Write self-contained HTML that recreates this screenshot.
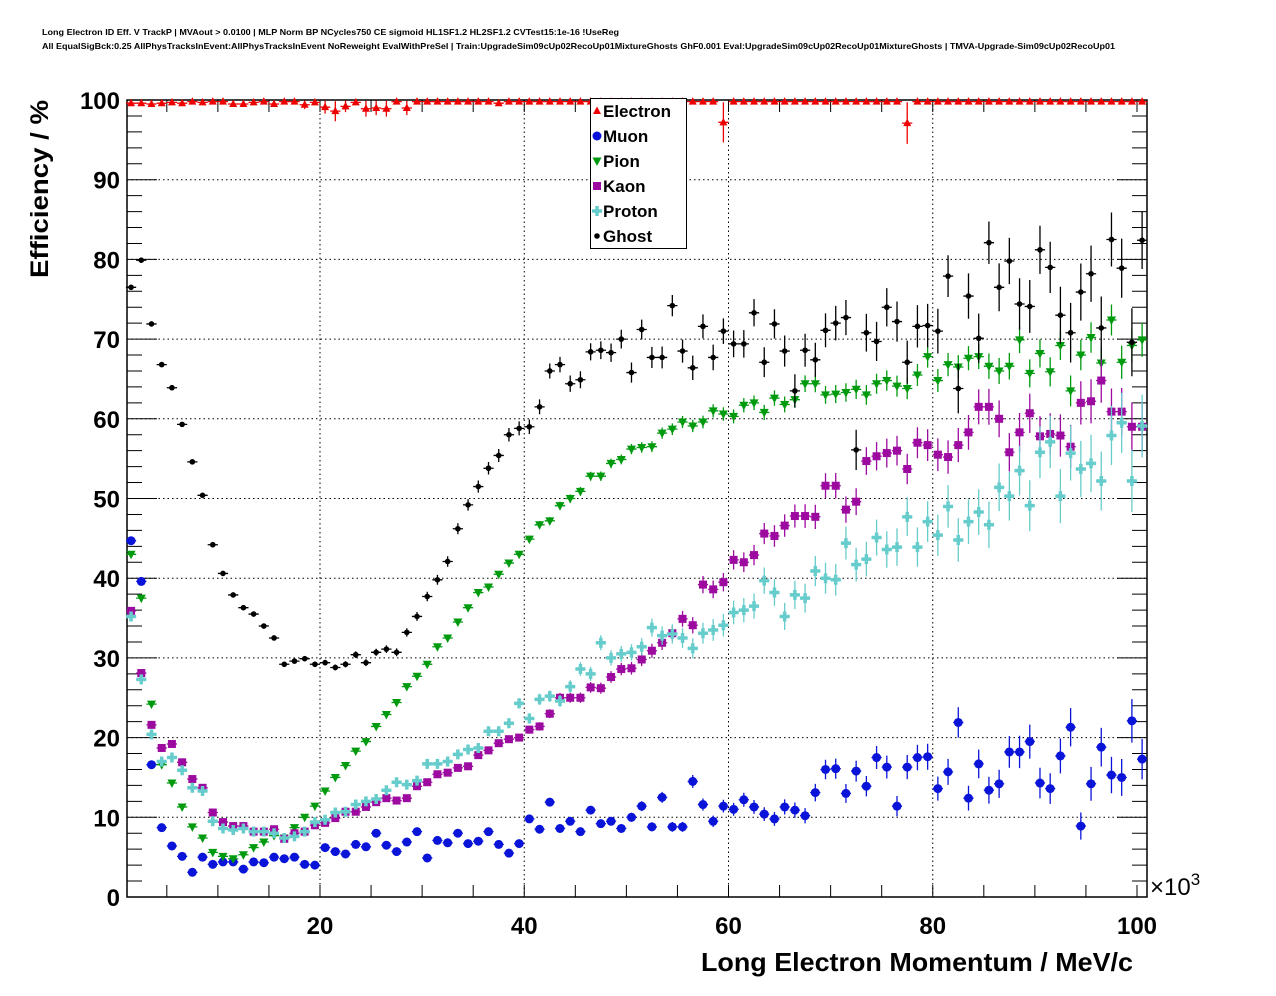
<!DOCTYPE html>
<html><head><meta charset="utf-8"><style>
html,body{margin:0;padding:0;background:#fff;}
svg{display:block;font-family:"Liberation Sans",sans-serif;}
</style></head><body>
<svg id="c" width="1276" height="996" viewBox="0 0 1276 996" xmlns="http://www.w3.org/2000/svg">
<rect width="1276" height="996" fill="#fff"/>
<text x="42" y="35" font-size="8.5" font-weight="bold" textLength="577" lengthAdjust="spacingAndGlyphs">Long Electron ID Eff. V TrackP | MVAout &gt; 0.0100 | MLP Norm BP NCycles750 CE sigmoid HL1SF1.2 HL2SF1.2 CVTest15:1e-16 !UseReg</text>
<text x="42" y="49" font-size="8.5" font-weight="bold" textLength="1073" lengthAdjust="spacingAndGlyphs">All EqualSigBck:0.25 AllPhysTracksInEvent:AllPhysTracksInEvent NoReweight EvalWithPreSel | Train:UpgradeSim09cUp02RecoUp01MixtureGhosts GhF0.001 Eval:UpgradeSim09cUp02RecoUp01MixtureGhosts | TMVA-Upgrade-Sim09cUp02RecoUp01</text>
<g id="grid"></g>
<g id="axes"></g>
<g id="series"></g>
<g id="legend"></g>
<text transform="translate(48,278) rotate(-90)" font-size="25" font-weight="bold" textLength="178" lengthAdjust="spacingAndGlyphs">Efficiency / %</text>
<text x="1133" y="971" text-anchor="end" font-size="26" font-weight="bold" textLength="432" lengthAdjust="spacingAndGlyphs">Long Electron Momentum / MeV/c</text>
<text x="1150" y="895" font-size="24">×10<tspan font-size="17" dy="-10">3</tspan></text>
</svg>
<script>
const xTicks = [20, 40, 60, 80, 100];
const yTicks = [0, 10, 20, 30, 40, 50, 60, 70, 80, 90, 100];
const binStart = 1.5;
const electron = [99.6,99.6,99.5,99.6,99.7,99.6,99.8,99.7,99.8,99.8,99.5,99.5,99.7,99.8,99.5,99.8,99.8,99.4,99.7,99.1,98.6,99.2,99.7,98.9,99.0,98.9,99.8,99.0,99.8,99.8,99.8,99.8,99.8,99.8,99.8,99.8,99.6,99.8,99.8,99.8,99.8,99.8,99.8,99.8,99.8,99.8,99.8,99.8,99.8,99.8,99.8,99.8,99.8,99.8,99.8,99.8,99.8,99.8,97.2,99.8,99.8,99.8,99.8,99.8,99.8,99.8,99.8,99.8,99.8,99.8,99.8,99.8,99.8,99.8,99.8,99.8,97.1,99.8,99.8,99.8,99.8,99.8,99.8,99.8,99.8,99.8,99.8,99.8,99.8,99.8,99.8,99.8,99.8,99.8,99.8,99.8,99.8,99.8,99.8,99.8];
const muon = [44.7,39.6,16.6,8.7,6.4,5.1,3.1,5.0,4.1,4.4,4.4,3.5,4.4,4.3,5.0,4.8,5.0,4.1,4.0,6.2,5.7,5.4,6.6,6.3,8.0,6.5,5.7,6.9,8.2,
4.9,7.1,6.8,8.0,6.7,7.0,8.2,6.6,5.5,6.7,9.8,8.5,11.9,8.6,9.5,8.2,10.9,9.2,9.5,8.6,10.0,11.4,8.8,12.5,8.8,8.8,14.5,11.6,9.5,11.4,11.0,12.2,11.3,
10.4,9.8,11.3,10.9,10.2,13.1,16.0,16.1,13.0,15.8,13.9,17.5,16.3,11.4,16.3,17.5,17.6,13.6,15.7,21.9,12.4,16.7,13.4,14.2,18.2,18.2,19.5,14.3,13.6,17.7,21.3,8.9,14.2,18.8,15.3,15.0,22.1,17.3];
const pion = [43.0,37.5,24.2,16.6,14.3,11.3,8.8,7.4,5.6,5.1,4.8,5.3,6.2,6.9,7.7,7.4,8.7,10.0,11.4,13.3,15.0,16.5,18.3,19.5,21.4,22.9,24.4,26.4,27.7,
29.2,31.4,32.5,34.5,36.3,38.2,38.9,40.5,41.9,43.0,44.9,46.7,47.2,49.1,50.0,50.9,52.8,52.8,54.4,54.9,56.2,56.4,56.5,58.2,58.7,59.6,59.1,59.6,61.0,60.6,60.3,61.7,62.0,
60.8,62.6,61.8,62.4,64.4,64.4,63.0,63.1,63.3,63.7,63.0,64.4,64.8,64.1,63.8,65.5,67.8,64.8,66.8,66.5,67.6,67.8,66.6,66.0,66.6,69.9,65.7,68.2,65.9,69.2,63.5,68.0,70.2,67.0,72.4,67.1,69.2,69.9];
const kaon = [35.9,28.1,21.6,18.7,19.2,16.9,14.8,13.7,10.6,9.4,8.9,8.9,8.2,8.2,8.5,7.3,8.0,8.2,9.0,9.3,9.9,10.7,10.7,11.3,11.9,12.4,12.1,12.4,13.9,
14.4,15.4,15.6,16.2,16.4,17.8,18.4,19.3,19.8,20.0,21.0,21.4,23.0,25.0,25.0,25.0,26.3,26.2,27.6,28.6,28.7,29.8,30.9,31.9,33.1,34.9,34.1,39.2,38.6,39.5,42.3,42.0,42.9,
45.6,45.3,46.6,47.8,47.8,47.7,51.6,51.6,48.6,49.6,54.7,55.3,55.7,56.0,53.7,57.0,56.7,55.5,55.2,56.7,58.3,61.5,61.5,60.0,55.8,58.3,60.7,57.8,58.1,57.9,56.5,62.0,62.2,64.8,60.9,60.9,59.0,59.0];
const proton = [35.2,27.3,20.4,17.0,17.5,15.9,13.7,13.3,9.5,8.6,8.4,8.6,8.2,8.2,8.0,7.4,7.6,8.2,9.4,9.7,10.6,10.7,11.6,12.0,12.3,13.4,14.4,14.1,14.6,
16.7,16.7,17.0,17.9,18.5,18.7,20.8,20.8,21.8,24.3,22.4,24.8,25.2,24.6,26.4,28.6,28.0,31.9,30.0,30.5,30.7,31.4,33.8,32.8,33.0,32.5,31.2,33.1,33.5,34.1,35.7,36.0,36.5,
39.7,38.2,35.2,37.9,37.5,40.9,40.0,39.8,44.4,41.7,42.4,45.1,43.6,43.9,47.7,43.9,47.1,45.4,49.0,44.8,47.1,48.3,46.7,51.4,50.3,53.5,49.1,55.8,57.1,50.3,55.7,53.7,54.4,52.2,57.9,59.5,52.2,59.1];
const ghost = [76.5,79.9,71.9,66.8,63.9,59.3,54.6,50.4,44.2,40.6,37.9,36.3,35.5,34.0,32.5,29.2,29.6,29.9,29.2,29.4,28.8,29.2,30.4,29.4,30.7,31.1,30.7,33.2,35.2,
37.7,39.8,42.1,46.2,49.2,51.5,53.8,55.4,58.0,58.8,59.0,61.5,66.0,66.8,64.4,64.9,68.4,68.6,68.3,70.0,65.8,71.2,67.7,67.7,74.2,68.5,66.4,71.6,67.7,71.0,69.4,69.4,73.3,
67.1,71.9,68.5,63.5,68.6,67.4,71.1,72.0,72.7,56.1,70.8,69.7,74.0,72.2,67.1,71.6,71.7,71.0,77.9,63.8,75.4,70.1,82.1,76.5,79.8,74.4,74.1,81.2,79.0,73.0,70.8,75.9,78.2,71.4,82.5,78.9,69.6,82.4];
const seriesNames = ["Electron","Muon","Pion","Kaon","Proton","Ghost"];
const errScales = [0.01,0.032,0.022,0.03,0.038,0.045];

const L=127,R=1147,T=100,B=897;
const X0=115.75, XS=10.2125;
function xp(v){return X0+XS*v;}
function yp(v){return B-(B-T)*v/100;}
const NS="http://www.w3.org/2000/svg";
function mk(tag,attrs,parent){const e=document.createElementNS(NS,tag);for(const k in attrs)e.setAttribute(k,attrs[k]);parent.appendChild(e);return e;}
const grid=document.getElementById('grid'),axes=document.getElementById('axes'),ser=document.getElementById('series'),leg=document.getElementById('legend');

yTicks.forEach(t=>{
  if(t>0&&t<100){const g=mk('line',{x1:L,x2:R,y1:yp(t),y2:yp(t),stroke:'#000','stroke-width':1,'stroke-dasharray':'1.5,3'},grid);
  
  }
  const lb=mk('text',{x:120,y:yp(t)+9,'text-anchor':'end','font-size':24,'font-weight':'bold'},axes);
  lb.textContent=t;
  
  
});
xTicks.forEach(t=>{
  if(t<100){const g=mk('line',{x1:xp(t),x2:xp(t),y1:T,y2:B,stroke:'#000','stroke-width':1,'stroke-dasharray':'1.5,3'},grid);
  
  }
  const lb=mk('text',{x:xp(t),y:934,'text-anchor':'middle','font-size':24,'font-weight':'bold'},axes);
  lb.textContent=t;
  
  
});
// ticks
let tk='';
for(let v=0;v<=100;v+=2){const y=yp(v);const len=(v%10===0)?30:15;tk+=`M${L},${y}h${len}M${R},${y}h${-len}`;}
for(let v=5;v<=100;v+=5){const x=xp(v);if(x<L||x>R)continue;tk+=`M${x},${B}v-12M${x},${T}v12`;}
const tp=mk('path',{d:tk,stroke:'#000','stroke-width':1,fill:'none'},axes);


const fr=mk('rect',{x:L,y:T,width:R-L,height:B-T,fill:'none',stroke:'#000','stroke-width':1.5},axes);



const colors=['#ee0000','#0a14d8','#009a0e','#9c0aa0','#66cccc','#000000'];
function marker(kind,x,y,p,c){
  let e;
  if(kind===0) e=mk('polygon',{points:`${x},${y-4.5} ${x-4},${y+3} ${x+4},${y+3}`,fill:c},p);
  else if(kind===1) e=mk('circle',{cx:x,cy:y,r:4.5,fill:c},p);
  else if(kind===2) e=mk('polygon',{points:`${x},${y+5} ${x-4.5},${y-3.5} ${x+4.5},${y-3.5}`,fill:c},p);
  else if(kind===3) e=mk('rect',{x:x-4,y:y-4,width:8,height:8,fill:c},p);
  else if(kind===4) e=mk('path',{d:`M${x-5},${y}h10M${x},${y-5}v10`,stroke:c,'stroke-width':3.5,fill:'none'},p);
  else e=mk('circle',{cx:x,cy:y,r:2.8,fill:c},p);
  return e;
}
const allSeries=[electron,muon,pion,kaon,proton,ghost];
allSeries.forEach((arr,s)=>{
  const g=mk('g',{},ser);
  
  
  let d='';
  arr.forEach((v,i)=>{
    const xv=binStart+i, x=xp(xv), y=yp(v);
    const f=0.1+2*Math.pow(i/99,2);
    let err=errScales[s]*Math.sqrt(Math.max(v*(100-v),1))*f;
    if(s===0&&v<99.5) err=Math.max(err,(100-v)*0.9);
    d+=`M${xp(xv-0.5)},${y}H${xp(xv+0.5)}`;
    d+=`M${x},${Math.max(yp(Math.min(v+err,100)),T)}V${yp(Math.max(v-err,0))}`;
  });
  const pe=mk('path',{d:d,stroke:colors[s],'stroke-width':1.3,fill:'none'},g);
  
  
  arr.forEach((v,i)=>{
    const m=marker(s,xp(binStart+i),yp(v),g,colors[s]);
    
    
  });
});
// legend
const lbx=mk('rect',{x:590.5,y:98.5,width:96,height:150,fill:'#fff',stroke:'#000','stroke-width':1},leg);


seriesNames.forEach((n,s)=>{
  const y=111+25*s;
  const g=mk('g',{},leg);
  
  
  marker(s,597,y,g,colors[s]);
  const t=mk('text',{x:603,y:y+6,'font-size':17,'font-weight':'bold'},g);
  t.textContent=n;
});
</script>
</body></html>
